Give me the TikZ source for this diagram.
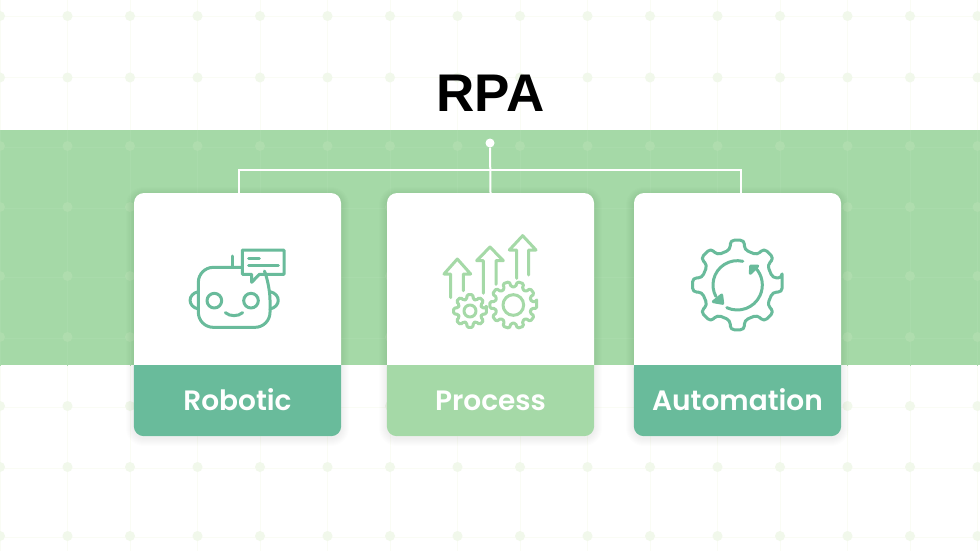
\documentclass[tikz,border=0pt]{standalone}
\usepackage{fontspec}
\setmainfont{Poppins}
\newfontfamily\labelfont{Poppins SemiBold}
\newfontfamily\titlefont{Liberation Sans}
\definecolor{bandgreen}{HTML}{A5D9A7}
\definecolor{deepgreen}{HTML}{69BB9B}
\definecolor{griddot}{HTML}{F1F8EB}
\definecolor{gridline}{HTML}{FAFCF5}
\definecolor{griddotb}{HTML}{AFDDAE}
\definecolor{gridlineb}{HTML}{A9DBAB}
\tikzset{
  cardbox/.style={fill=white,rounded corners=10pt,inner sep=0pt,minimum width=207pt,minimum height=243pt},
  cardlabel/.style={text=white,font=\labelfont\fontsize{28}{29}\selectfont,inner sep=0pt,anchor=base},
  wire/.style={draw=white,line width=2pt},
  iconline/.style={line width=3pt,line cap=round,line join=round},
  zoomscope/.style={x=0.33333pt,y=-0.33333pt}
}
% grid layer: dot colour, line colour
\newcommand{\gridlayer}[2]{%
  \foreach \gx in {0,67.5,130,197.5,260,327.5,390,457.5,520,587.5,650,717.5,780,847.5,910,977.5}
    \draw[#2,line width=1pt] (\gx,0) -- (\gx,551);
  \foreach \gy in {17,78,147,208,277,338,407,468,537}
    \draw[#2,line width=1pt] (0,\gy) -- (980,\gy);
  \foreach \gx in {0,67.5,130,197.5,260,327.5,390,457.5,520,587.5,650,717.5,780,847.5,910,977.5}
    \foreach \gy in {16,77.5,146,207,276,337,406,467,536}
      \fill[#1] (\gx,\gy) circle[radius=5];
}
% gear: cx cy Router Rroot n rot halfTip corner
\newcommand{\geartooth}[8]{%
  \begin{scope}[shift={(#1,#2)}]
  \draw[iconline,rounded corners=#8] ({#6-#7}:#3)
    \foreach \k in {1,...,#5} {
      -- ({#6+(\k-1)*360/#5+#7}:#3)
      -- ({#6+(\k-1)*360/#5+#7*1.25}:#4)
      -- ({#6+\k*360/#5-#7*1.25}:#4)
      -- ({#6+\k*360/#5-#7}:#3)
    } -- cycle;
  \end{scope}}
\begin{document}
\begin{tikzpicture}[x=1pt,y=-1pt]
\useasboundingbox (0,0) rectangle (980,551);
\fill[white] (0,0) rectangle (980,551);
\begin{scope}
\clip (0,0) rectangle (980,551);
\gridlayer{griddot}{gridline}
\fill[bandgreen] (0,130) rectangle (980,365);
\begin{scope}
\clip (0,130) rectangle (980,365);
\gridlayer{griddotb}{gridlineb}
\end{scope}
\end{scope}
% card shadows
\foreach \sx in {134,387,634}{
  \foreach \sg in {1,...,8}{
    \fill[black,opacity=0.008,rounded corners={10pt+\sg*1pt}]
      (\sx-\sg,193+2-\sg) rectangle (\sx+207+\sg,436+2+\sg);
  }
}
% connectors
\node[circle,fill=white,inner sep=0pt,minimum size=9pt] (hubdot) at (490,143) {};
\coordinate (branch) at (490,169.5);
\coordinate (dropa) at (239,193);
\coordinate (dropc) at (741,193);
% cards
\node[cardbox] (carda) at (237.5,314.5) {};
\node[cardbox] (cardb) at (490.5,314.5) {};
\node[cardbox] (cardc) at (737.5,314.5) {};
\draw[wire] (hubdot) -- (cardb.north);
\draw[wire] (dropa) |- (branch) -| (dropc);
% footers
\fill[deepgreen] (134,365) [rounded corners=10pt] -- (carda.south west) -- (carda.south east) [sharp corners] -- (341,365) -- cycle;
\fill[bandgreen] (387,365) [rounded corners=10pt] -- (cardb.south west) -- (cardb.south east) [sharp corners] -- (594,365) -- cycle;
\fill[deepgreen] (634,365) [rounded corners=10pt] -- (cardc.south west) -- (cardc.south east) [sharp corners] -- (841,365) -- cycle;
\node[cardlabel] (labela) at (237.5,410) {Robotic};
\node[cardlabel] (labelb) at (490.5,410) {Process};
\node[cardlabel] (labelc) at (737.5,410) {Automation};
\node[inner sep=0pt] (title) at (490.5,93) {\titlefont\fontsize{53}{53}\selectfont\bfseries RPA};
% robot icon
\begin{scope}[shift={(170,230)},zoomscope,iconline,draw=deepgreen]
\draw[rounded corners=15pt] (215,112) -- (85,112) -- (85,292) -- (300,292) -- (300,165) -- (288,135);
\draw (85,185) .. controls (52,192) and (52,230) .. (85,237);
\draw (300,185) .. controls (333,192) and (333,230) .. (300,237);
\draw (133,212) circle[radius=22];
\draw (243,212) circle[radius=22];
\draw (166,248) .. controls (180,260) and (204,260) .. (218,248);
\draw (188,78) -- (188,112);
\draw (217,60) -- (342,60) -- (342,133) -- (268,133) -- (245,157) -- (245,133) -- (217,133) -- cycle;
\draw (236,85) -- (268,85);
\draw (236,107) -- (325,107);
\end{scope}
% process icon
\begin{scope}[shift={(430,225)},zoomscope,iconline,draw=bandgreen]
\draw (62,218) -- (62,147) -- (42,147) -- (82,102) -- (122,147) -- (100,147) -- (100,197);
\draw (160,205) -- (160,107) -- (140,107) -- (180,66) -- (220,107) -- (198,107) -- (198,178);
\draw (260,160) -- (260,75) -- (238,75) -- (278,32) -- (318,75) -- (296,75) -- (296,150);
\draw (120,258) circle[radius=18];
\draw (250,240) circle[radius=31];
\end{scope}
\begin{scope}[shift={(430,225)},zoomscope,draw=bandgreen]
\geartooth{120}{258}{50}{37}{8}{0}{11}{1.5pt}
\geartooth{250}{240}{71}{55}{10}{0}{8.5}{1.5pt}
\end{scope}
% automation icon
\begin{scope}[shift={(680,230)},zoomscope,draw=deepgreen]
\geartooth{172}{165}{136}{108}{8}{0}{9}{4pt}
\begin{scope}[shift={(172,165)},iconline]
\draw (-77:73) arc[start angle=-77,end angle=-208,radius=73];
\draw (-245:75) arc[start angle=-245,end angle=-403,radius=75];
\end{scope}
\draw[iconline,fill=deepgreen] (100,215) -- (128,220) -- (125,195) -- cycle;
\draw[iconline,fill=deepgreen] (211,130) -- (212,108) -- (233,108) -- cycle;
\end{scope}
\end{tikzpicture}
\end{document}
